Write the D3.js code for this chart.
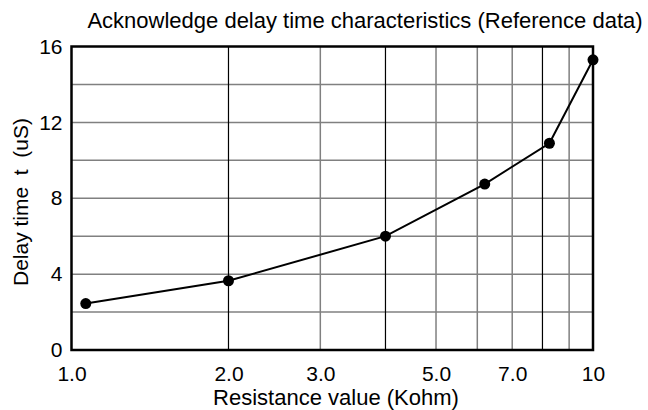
<!DOCTYPE html>
<html>
<head>
<meta charset="utf-8">
<script src="https://cdn.jsdelivr.net/npm/d3@7"></script>
<style>
  body { margin: 0; background: #fff; }
  text { font-family: "Liberation Sans", Arial, sans-serif; fill: #000; }
</style>
</head>
<body>
<svg id="chart"></svg>
<script>
// resistance (Kohm) vs delay time (uS)
var resistance = [1.065, 2, 4, 6.2, 8.25, 10];
var delayTime = [2.45, 3.65, 6.0, 8.75, 10.9, 15.3];

var xTicks = [1, 2, 3, 5, 7, 10];
var xTickLabels = ['1.0', '2.0', '3.0', '5.0', '7.0', '10'];
var xGridDark = [2, 4, 8];
var xGridLight = [3, 5, 6, 7, 9];
var yTicks = [0, 4, 8, 12, 16];
var yGrid = [2, 4, 6, 8, 10, 12, 14];

var width = 648, height = 410;
var plotLeft = 71.5, plotRight = 593, plotTop = 46.5, plotBottom = 350;

var svg = d3.select('#chart')
  .attr('width', width)
  .attr('height', height);

var x = d3.scaleLog().domain([1, 10]).range([plotLeft, plotRight]);
var y = d3.scaleLinear().domain([0, 16]).range([plotBottom, plotTop]);

// grid
svg.selectAll('.hgrid')
  .data(yGrid)
  .enter().append('line')
    .attr('class', 'hgrid')
    .attr('x1', plotLeft).attr('x2', plotRight)
    .attr('y1', function(d){ return y(d); })
    .attr('y2', function(d){ return y(d); })
    .attr('stroke', '#808080')
    .attr('stroke-width', 1.5);

svg.selectAll('.vgridLight')
  .data(xGridLight)
  .enter().append('line')
    .attr('class', 'vgridLight')
    .attr('x1', function(d){ return x(d); })
    .attr('x2', function(d){ return x(d); })
    .attr('y1', plotTop).attr('y2', plotBottom)
    .attr('stroke', '#808080')
    .attr('stroke-width', 1.5);

svg.selectAll('.vgridDark')
  .data(xGridDark)
  .enter().append('line')
    .attr('class', 'vgridDark')
    .attr('x1', function(d){ return x(d); })
    .attr('x2', function(d){ return x(d); })
    .attr('y1', plotTop).attr('y2', plotBottom)
    .attr('stroke', '#000')
    .attr('stroke-width', 1.2);

// frame
svg.append('rect')
  .attr('x', plotLeft).attr('y', plotTop)
  .attr('width', plotRight - plotLeft).attr('height', plotBottom - plotTop)
  .attr('fill', 'none')
  .attr('stroke', '#000')
  .attr('stroke-width', 2.5);

// tick labels only, the frame carries the lines
var xAxis = d3.axisBottom(x)
  .tickValues(xTicks)
  .tickSize(0)
  .tickPadding(16)
  .tickFormat(function(d, i){ return xTickLabels[i]; });
var gx = svg.append('g')
  .attr('transform', 'translate(0,' + plotBottom + ')')
  .call(xAxis);
gx.select('.domain').remove();
gx.selectAll('text')
  .attr('font-size', 21)
  .attr('font-family', '"Liberation Sans", Arial, sans-serif')
  .attr('fill', '#000');

var yAxis = d3.axisLeft(y)
  .tickValues(yTicks)
  .tickSize(0)
  .tickPadding(9)
  .tickFormat(d3.format('d'));
var gy = svg.append('g')
  .attr('transform', 'translate(' + plotLeft + ',0)')
  .call(yAxis);
gy.select('.domain').remove();
gy.selectAll('text')
  .attr('font-size', 21)
  .attr('font-family', '"Liberation Sans", Arial, sans-serif')
  .attr('fill', '#000');

// data line + points
var line = d3.line()
  .x(function(d, i){ return x(resistance[i]); })
  .y(function(d){ return y(d); });

svg.append('path')
  .datum(delayTime)
  .attr('d', line)
  .attr('fill', 'none')
  .attr('stroke', '#000')
  .attr('stroke-width', 2);

svg.selectAll('.dot')
  .data(delayTime)
  .enter().append('circle')
    .attr('class', 'dot')
    .attr('cx', function(d, i){ return x(resistance[i]); })
    .attr('cy', function(d){ return y(d); })
    .attr('r', 5.5)
    .attr('fill', '#000');

// titles
svg.append('text')
  .attr('x', 365).attr('y', 28)
  .attr('text-anchor', 'middle')
  .attr('font-size', 22)
  .text('Acknowledge delay time characteristics (Reference data)');

svg.append('text')
  .attr('x', 336).attr('y', 405)
  .attr('text-anchor', 'middle')
  .attr('font-size', 22)
  .text('Resistance value (Kohm)');

svg.append('text')
  .attr('transform', 'translate(28,202) rotate(-90)')
  .attr('text-anchor', 'middle')
  .attr('font-size', 21)
  .style('white-space', 'pre')
  .text('Delay time  t  (uS)');
</script>
</body>
</html>
